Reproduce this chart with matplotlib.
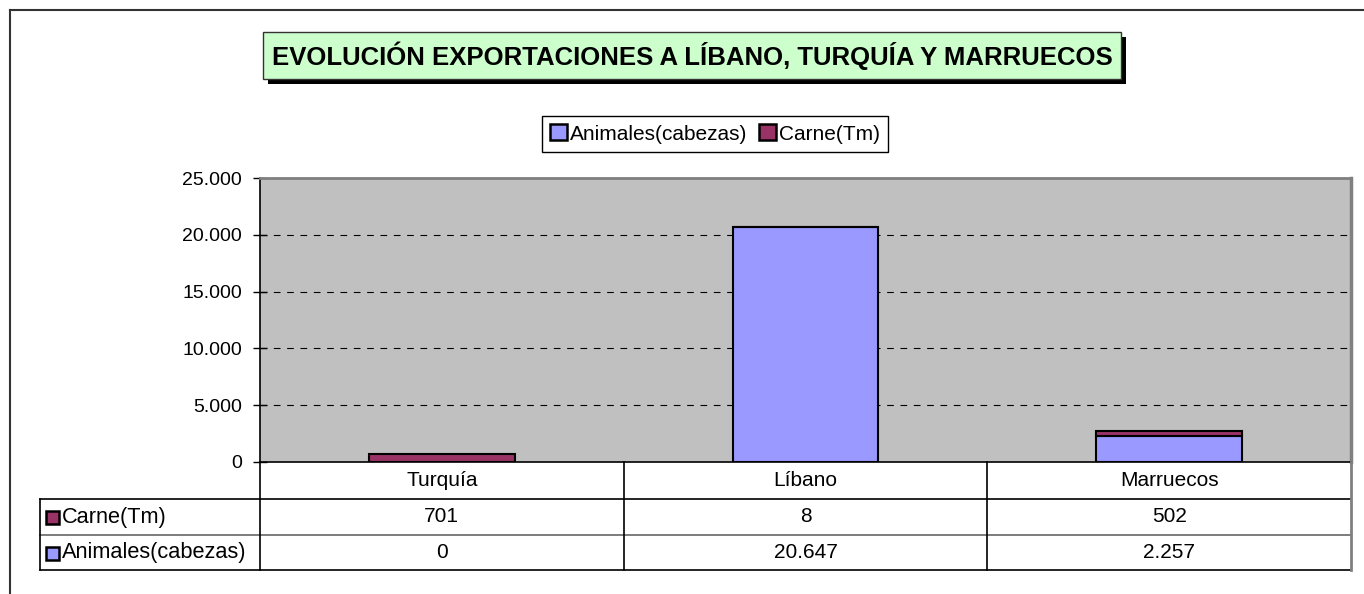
import matplotlib
matplotlib.use("Agg")
import matplotlib.pyplot as plt
from matplotlib.patches import Rectangle, Patch
from matplotlib.lines import Line2D
from matplotlib.ticker import FuncFormatter

plt.rcParams['font.family'] = ['Liberation Sans', 'DejaVu Sans']

categories = ["Turquía", "Líbano", "Marruecos"]
animales = [0, 20647, 2257]
carne = [701, 8, 502]
series_names = ["Animales(cabezas)", "Carne(Tm)"]
title = "EVOLUCIÓN EXPORTACIONES A LÍBANO, TURQUÍA Y MARRUECOS"
yticks = [0, 5000, 10000, 15000, 20000, 25000]

col_anim = "#9999FF"
col_carne = "#993366"

W, H = 1364, 594
fig = plt.figure(figsize=(W / 100, H / 100), dpi=100)

def fx(x):
    return x / W

def fy(y):
    return 1 - y / H

# Plot area
L, R, T, B = 260, 1351, 178, 462
ax = fig.add_axes([fx(L), fy(B), fx(R) - fx(L), fy(T) - fy(B)])
ax.set_facecolor("#C0C0C0")
x = list(range(len(categories)))
ax.bar(x, animales, width=0.4, color=col_anim, edgecolor="black", linewidth=1.5, zorder=3)
ax.bar(x, carne, width=0.4, bottom=animales, color=col_carne, edgecolor="black", linewidth=1.5, zorder=3)
ax.set_xlim(-0.5, len(categories) - 0.5)
ax.set_ylim(0, 25000)
ax.set_yticks(yticks)
ax.yaxis.set_major_formatter(FuncFormatter(lambda v, p: f"{int(v):,}".replace(",", ".")))
ax.tick_params(axis='y', labelsize=14, length=10, width=1, pad=8, direction='inout')
ax.set_xticks([])
for yv in yticks[1:-1]:
    ax.axhline(yv, color="black", linestyle=(0, (6, 6)), linewidth=0.8, zorder=2)
ax.spines['left'].set_color("black")
ax.spines['bottom'].set_color("black")
ax.spines['top'].set_color("#808080")
ax.spines['right'].set_color("#808080")
ax.spines['top'].set_linewidth(2)
ax.spines['right'].set_linewidth(2.5)
ax.spines['left'].set_linewidth(1.2)
ax.spines['bottom'].set_linewidth(1.2)

# Legend
handles = [Patch(facecolor=col_anim, edgecolor="black", linewidth=1.8),
           Patch(facecolor=col_carne, edgecolor="black", linewidth=1.8)]
leg = fig.legend(handles, series_names, loc="center", bbox_to_anchor=(fx(715), fy(134)),
                 ncol=2, fontsize=15, frameon=True, fancybox=False, framealpha=1,
                 edgecolor="black", handlelength=0.8, handleheight=0.8, handletextpad=0.15,
                 columnspacing=0.55, borderpad=0.4, borderaxespad=0)
leg.get_frame().set_linewidth(1)

# Title box with shadow
tx0, tx1, ty0, ty1 = 263, 1121, 32, 79
fig.patches.append(Rectangle((fx(tx0 + 5), fy(ty1 + 5)), fx(tx1) - fx(tx0), fy(ty0) - fy(ty1),
                             transform=fig.transFigure, facecolor="black", edgecolor="none"))
fig.patches.append(Rectangle((fx(tx0), fy(ty1)), fx(tx1) - fx(tx0), fy(ty0) - fy(ty1),
                             transform=fig.transFigure, facecolor="#CCFFCC", edgecolor="#333333",
                             linewidth=1))
fig.text(fx((tx0 + tx1) / 2), fy((ty0 + ty1) / 2), title, ha="center", va="center",
         fontsize=18.5, fontweight="bold")

# Outer frame
fig.add_artist(Line2D([fx(10), fx(10)], [fy(10), 0], transform=fig.transFigure, color="#333333", linewidth=1.5))
fig.add_artist(Line2D([fx(10), 1], [fy(10), fy(10)], transform=fig.transFigure, color="#333333", linewidth=1.5))

# Data table
TL = 40
rows_y = [462, 499, 535, 570]
col_x = [L + (R - L) * i / len(categories) for i in range(len(categories) + 1)]

def hline(y, x0, x1, color="black", lw=1.2):
    fig.add_artist(Line2D([fx(x0), fx(x1)], [fy(y), fy(y)], transform=fig.transFigure, color=color, linewidth=lw))

def vline(x, y0, y1, color="black", lw=1.2):
    fig.add_artist(Line2D([fx(x), fx(x)], [fy(y0), fy(y1)], transform=fig.transFigure, color=color, linewidth=lw))

hline(rows_y[1], TL, R)
hline(rows_y[2], TL, R, color="#666666")
hline(rows_y[3], TL, R)
vline(TL, rows_y[1], rows_y[3])
for i, cx in enumerate(col_x):
    vline(cx, rows_y[0], rows_y[3], color="#808080" if i == len(col_x) - 1 else "black",
          lw=2 if i == len(col_x) - 1 else 1.2)

def fmt(v):
    return f"{v:,}".replace(",", ".")

for i, c in enumerate(categories):
    cx = (col_x[i] + col_x[i + 1]) / 2
    fig.text(fx(cx), fy((rows_y[0] + rows_y[1]) / 2), c, ha="center", va="center", fontsize=15)
    fig.text(fx(cx), fy((rows_y[1] + rows_y[2]) / 2), fmt(carne[i]), ha="center", va="center", fontsize=15)
    fig.text(fx(cx), fy((rows_y[2] + rows_y[3]) / 2), fmt(animales[i]), ha="center", va="center", fontsize=15)

row_series = [(series_names[1], col_carne), (series_names[0], col_anim)]
for k, (name, col) in enumerate(row_series):
    yc = (rows_y[k + 1] + rows_y[k + 2]) / 2
    fig.patches.append(Rectangle((fx(46), fy(yc + 7)), fx(13), 13 / H, transform=fig.transFigure,
                                 facecolor=col, edgecolor="black", linewidth=1.8))
    fig.text(fx(62), fy(yc), name, ha="left", va="center", fontsize=15.7)

fig.savefig("out.png", dpi=100)
